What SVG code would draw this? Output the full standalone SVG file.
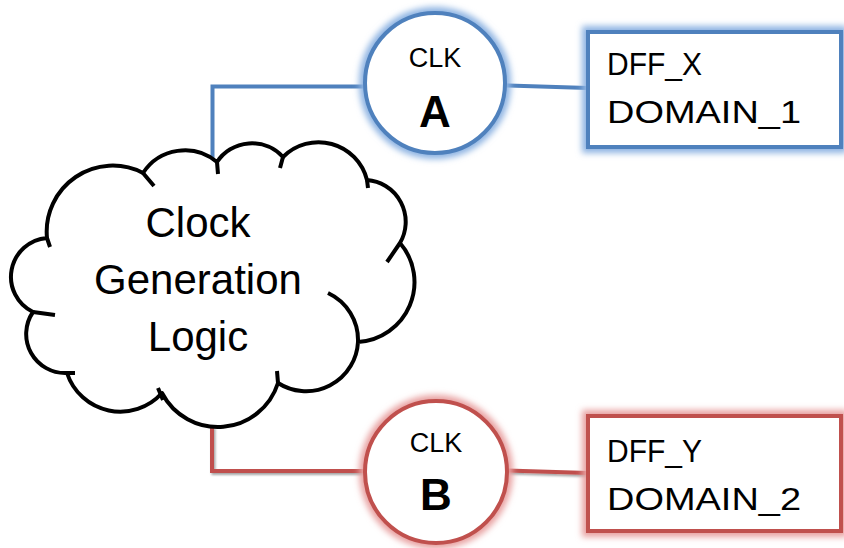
<svg xmlns="http://www.w3.org/2000/svg" width="844" height="548" viewBox="0 0 844 548">
  <style>
    .label { font-family: "Liberation Sans", Arial, sans-serif; fill: #000; }
    .cloud { fill: #fff; stroke: #000; stroke-width: 4; stroke-linejoin: round; }
    .cloud-mark { fill: none; stroke: #000; stroke-width: 4; }
    .blue { stroke: #4F81BD; }
    .red { stroke: #C0504D; }
    .wire { fill: none; stroke-width: 4; }
    .node { fill: #fff; stroke-width: 4; }
    .halo { fill: none; stroke-width: 12; filter: url(#soft); }
    .halo.blue { stroke: #8DB3E2; }
    .halo.red { stroke: #E8A0A0; }
  </style>
  <defs>
    <filter id="soft" x="-20%" y="-20%" width="140%" height="140%">
      <feGaussianBlur stdDeviation="3"/>
    </filter>
    <filter id="shadow" x="-10%" y="-10%" width="130%" height="130%">
      <feDropShadow dx="1.5" dy="2" stdDeviation="1.2" flood-color="#000" flood-opacity="0.35"/>
    </filter>
  </defs>

  <rect width="844" height="548" fill="#fff"/>

  <!-- connectors -->
  <g id="connectors">
    <path class="wire blue" d="M212.5 160 V86.5 H365"/>
    <path class="wire blue" d="M506 85.5 L588 88"/>
    <g filter="url(#shadow)">
      <path class="wire red" d="M212 426 V471 H365"/>
      <path class="wire red" d="M507 470.5 L588 473"/>
    </g>
  </g>

  <!-- clock generation cloud -->
  <g id="clock-generation-logic">
    <path class="cloud" d="M47 238
      A66 66 0 0 1 143 173
      A50 50 0 0 1 217 162
      A42 42 0 0 1 283 157
      A50 50 0 0 1 367 180
      A42 42 0 0 1 400 243
      A60 60 0 0 1 358 342
      A52 52 0 0 1 278 383
      A63 63 0 0 1 162 393
      A56 56 0 0 1 67 373
      A39 39 0 0 1 33 312
      A39 39 0 0 1 47 238 Z"/>
    <path class="cloud-mark" d="M143 173 L154 186
      M217 162 L218 174
      M283 157 L280 168
      M367 180 L368 188
      M400 243 L387 262
      M328 293 A52 52 0 0 1 358 342
      M277 371 L278 383
      M158 388 L163 400
      M67 373 L75 373
      M33 312 L55 315
      M47 238 L50 247"/>
    <text class="label" font-size="42" text-anchor="middle" x="198" y="237">Clock</text>
    <text class="label" font-size="42" text-anchor="middle" x="198" y="294">Generation</text>
    <text class="label" font-size="42" text-anchor="middle" x="198" y="351">Logic</text>
  </g>

  <!-- clock A -->
  <g id="clk-a">
    <circle class="halo blue" cx="435" cy="83" r="70"/>
    <circle class="node blue" cx="435" cy="83" r="70"/>
    <text class="label" font-size="27" text-anchor="middle" x="435" y="67">CLK</text>
    <text class="label" font-size="44" font-weight="bold" text-anchor="middle" x="435" y="127">A</text>
  </g>

  <!-- clock B -->
  <g id="clk-b">
    <circle class="halo red" cx="436" cy="472" r="71"/>
    <circle class="node red" cx="436" cy="472" r="71"/>
    <text class="label" font-size="27" text-anchor="middle" x="436" y="452">CLK</text>
    <text class="label" font-size="44" font-weight="bold" text-anchor="middle" x="436" y="510">B</text>
  </g>

  <!-- flip-flop in domain 1 -->
  <g id="dff-x">
    <rect class="halo blue" x="588" y="32" width="253" height="115"/>
    <rect class="node blue" x="588" y="32" width="253" height="115"/>
    <text class="label" font-size="32" x="607" y="75" textLength="95" lengthAdjust="spacingAndGlyphs">DFF_X</text>
    <text class="label" font-size="32" x="607" y="123" textLength="194" lengthAdjust="spacingAndGlyphs">DOMAIN_1</text>
  </g>

  <!-- flip-flop in domain 2 -->
  <g id="dff-y">
    <rect class="halo red" x="588" y="416" width="253" height="115"/>
    <rect class="node red" x="588" y="416" width="253" height="115"/>
    <text class="label" font-size="32" x="607" y="462" textLength="95" lengthAdjust="spacingAndGlyphs">DFF_Y</text>
    <text class="label" font-size="32" x="607" y="510" textLength="194" lengthAdjust="spacingAndGlyphs">DOMAIN_2</text>
  </g>
</svg>
